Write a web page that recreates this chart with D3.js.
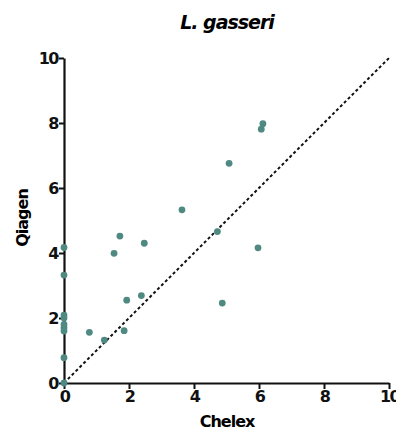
<!DOCTYPE html>
<html>
<head>
<meta charset="utf-8">
<script src="https://cdn.jsdelivr.net/npm/d3@7"></script>
<style>
  body { margin: 0; background: #fff; }
  text { font-family: "DejaVu Sans", sans-serif; font-weight: bold; }
</style>
</head>
<body>
<div id="chart"></div>
<script>
// Chelex (x) vs Qiagen (y) values
var chelex = [0, 0, 0, 0, 0, 0, 0, 0, 0,
              0.78, 1.24, 1.85, 1.93, 2.38, 1.54, 1.72, 2.47, 3.63,
              6.12, 6.07, 5.08, 4.72, 5.97, 4.87]
var qiagen = [4.17, 3.32, 2.09, 2.0, 1.8, 1.7, 1.6, 0.78, 0,
              1.56, 1.32, 1.61, 2.55, 2.69, 3.99, 4.52, 4.30, 5.33,
              7.98, 7.81, 6.76, 4.66, 4.16, 2.46]
var ticks = [0, 2, 4, 6, 8, 10]

var svgWidth = 396
var svgHeight = 430
var margin = { top: 58, left: 64 }
var chartWidth = 325
var chartHeight = 325

var svg = d3.select("#chart")
    .append("svg")
    .attr("width", svgWidth)
    .attr("height", svgHeight)

var chartGroup = svg.append("g")
    .attr("transform", `translate(${margin.left}, ${margin.top})`)

var x = d3.scaleLinear().domain([0, 10]).range([0, chartWidth])
var y = d3.scaleLinear().domain([0, 10]).range([chartHeight, 0])

// identity line
chartGroup.append("line")
    .attr("x1", x(0)).attr("y1", y(0))
    .attr("x2", x(10)).attr("y2", y(10))
    .attr("stroke", "#111")
    .attr("stroke-width", 2)
    .attr("stroke-dasharray", "3,2.5")

var xAxis = chartGroup.append("g")
    .attr("transform", `translate(0, ${chartHeight})`)
    .call(d3.axisBottom(x).tickValues(ticks).tickSize(6).tickPadding(2).tickSizeOuter(0))

var yAxis = chartGroup.append("g")
    .call(d3.axisLeft(y).tickValues(ticks).tickSize(5).tickPadding(1).tickSizeOuter(0))

;[xAxis, yAxis].forEach(function (g) {
    g.attr("font-family", null)
    g.select(".domain").attr("stroke", "#111").attr("stroke-width", 2.2)
    g.selectAll(".tick line").attr("stroke", "#111").attr("stroke-width", 2)
    g.selectAll(".tick text")
        .attr("fill", "#111")
        .style("font-size", "16px")
        .style("letter-spacing", "-1.5px")
})

chartGroup.selectAll("circle")
    .data(chelex)
    .enter()
    .append("circle")
    .attr("cx", d => x(d))
    .attr("cy", (d, i) => y(qiagen[i]))
    .attr("r", 3.4)
    .attr("fill", "#4f8a82")

// title and axis labels
svg.append("text")
    .attr("x", 227).attr("y", 29)
    .attr("text-anchor", "middle")
    .style("font-size", "19px")
    .style("font-style", "italic")
    .style("letter-spacing", "-1px")
    .text("L. gasseri")

svg.append("text")
    .attr("x", 227).attr("y", 427)
    .attr("text-anchor", "middle")
    .style("font-size", "16px")
    .style("letter-spacing", "-1px")
    .text("Chelex")

svg.append("text")
    .attr("transform", "translate(28, 218) rotate(-90)")
    .attr("text-anchor", "middle")
    .style("font-size", "16px")
    .style("letter-spacing", "-1px")
    .text("Qiagen")
</script>
</body>
</html>
